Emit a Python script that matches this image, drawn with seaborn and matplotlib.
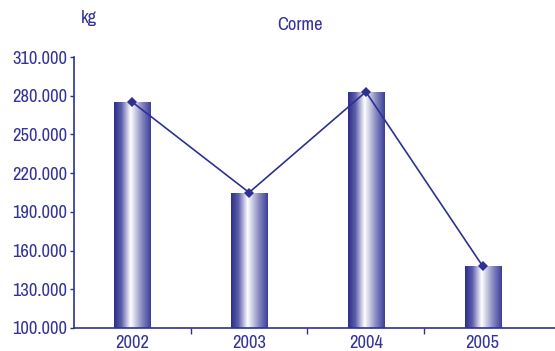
import numpy as np
import pandas as pd
import matplotlib
matplotlib.use("Agg")
import matplotlib.pyplot as plt
from matplotlib import font_manager as fm
from matplotlib.colors import LinearSegmentedColormap
from matplotlib.ticker import FuncFormatter, FixedLocator
import seaborn as sns

years = ["2002", "2003", "2004", "2005"]
values = [275000, 205000, 283000, 148000]
title = "Corme"
unit = "kg"

NAVY = "#2e3192"
TXT = "#33339a"
sns.set_theme(style="white")
plt.rcParams["font.family"] = ["Liberation Sans", "DejaVu Sans"]


def pick_font():
    fl = fm.fontManager.ttflist
    prefs = [
        lambda f: "narrow" in f.name.lower() and f.style == "normal" and f.weight in (400, "normal", "regular"),
        lambda f: "condensed" in f.name.lower() and f.style == "normal" and f.weight in (400, "normal", "regular"),
        lambda f: str(f.stretch).lower() in ("condensed", "semi-condensed", "semicondensed") and f.style == "normal"
                  and f.weight in (400, "normal", "regular") and "mono" not in f.name.lower()
                  and "serif" not in f.name.lower(),
    ]
    for pr in prefs:
        c = [f for f in fl if pr(f)]
        if c:
            return fm.FontProperties(fname=c[0].fname)
    return fm.FontProperties(family="Liberation Sans")


FP = pick_font()
narrow = FP.get_file() is not None and ("arrow" in str(FP.get_file()) or "ondensed" in str(FP.get_file()))
FS = 13.3 if narrow else 11.5

df = pd.DataFrame({"year": years, "value": values})

fig = plt.figure(figsize=(5.55, 3.51), dpi=100)
ax = fig.add_axes([74/555, 1-328/351, 1-74/555, (328-57)/351])

sns.barplot(data=df, x="year", y="value", ax=ax, width=0.31, color=NAVY,
            saturation=1, linewidth=0)

cmap = LinearSegmentedColormap.from_list(
    "bar", [(0, "#2b2d8a"), (0.2, "#5c5eaa"), (0.45, "#ffffff"), (0.75, "#8a8cc2"), (1, "#3c3e98")])
grad = np.linspace(0, 1, 256).reshape(1, -1)
for p in ax.patches:
    x0, y0 = p.get_x(), p.get_y()
    w, h = p.get_width(), p.get_height()
    p.set_facecolor("none")
    im = ax.imshow(grad, cmap=cmap, aspect="auto", extent=[x0, x0 + w, 100000, y0 + h],
                   zorder=2, interpolation="bilinear")
    im.set_clip_path(p)

sns.lineplot(x=np.arange(len(years)), y=values, ax=ax, color=NAVY, lw=1.2,
             marker="D", markersize=5.5, markeredgewidth=0, zorder=4)

ax.set_xlim(-0.5, 3.62)
ax.set_ylim(100000, 310000)
ax.yaxis.set_major_locator(FixedLocator(np.arange(100000, 310001, 30000)))
ax.yaxis.set_major_formatter(FuncFormatter(lambda v, p: f"{v/1000:.3f}"))
ax.set_xticks(range(len(years)))
ax.set_xticklabels(years)
ax.xaxis.set_minor_locator(FixedLocator([0.5, 1.5, 2.5]))
ax.tick_params(axis="x", which="major", length=0, pad=5, labelcolor=TXT)
ax.tick_params(axis="x", which="minor", length=4, width=1, color=NAVY, direction="out", bottom=True)
ax.tick_params(axis="y", which="major", length=3, width=1, color=NAVY, direction="out",
               left=True, pad=2, labelcolor=TXT)
for lab in ax.get_xticklabels() + ax.get_yticklabels():
    lab.set_fontproperties(FP)
    lab.set_fontsize(FS)
ax.set_xlabel("")
ax.set_ylabel("")
for s in ["top", "right"]:
    ax.spines[s].set_visible(False)
for s in ["left", "bottom"]:
    ax.spines[s].set_color(NAVY)
    ax.spines[s].set_linewidth(1.2)

fig.text(300/555, 1-25/351, title, color=TXT, fontproperties=FP, fontsize=FS, ha="center", va="center")
fig.text(89/555, 1-18/351, unit, color=TXT, fontproperties=FP, fontsize=FS, ha="center", va="center")

fig.savefig("out.png", dpi=100)
